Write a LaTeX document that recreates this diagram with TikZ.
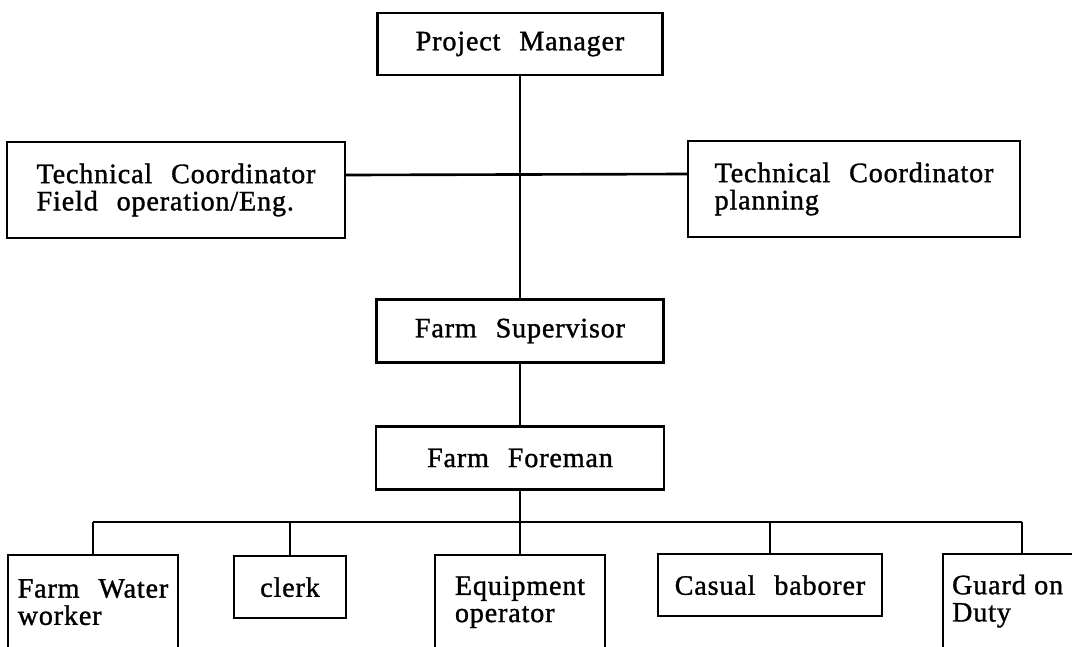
\documentclass[tikz,border=0pt]{standalone}
\usepackage{fontspec}
\setmainfont{Liberation Serif}[LetterSpace=3, WordSpace=2.4, FakeBold=1.2]
\usepackage{tikz}
\usetikzlibrary{positioning, calc}

\begin{document}
\begin{tikzpicture}[x=0.02cm, y=-0.02cm,
    post/.style={draw, line width=1.3pt, rectangle, inner sep=0pt,
      font=\fontsize{16}{15.5}\selectfont},
    link/.style={line width=1.5pt}]
  % frame of the scan
  \useasboundingbox (0,0) rectangle (1072,646);
  \clip (0,0) rectangle (1072,646);
  \fill[white] (0,0) rectangle (1072,646);

  % top of the chart
  \node[post, minimum width=5.7cm, minimum height=1.24cm] (pm) at (520,44) {Project Manager};
  \node[post, minimum width=6.76cm, minimum height=1.92cm, align=left] (tcfield) at (176,190)
        {Technical Coordinator\\ Field operation/Eng.};
  \node[post, minimum width=6.64cm, minimum height=1.92cm, align=left] (tcplan) at (854,189)
        {Technical Coordinator\\ planning};
  \node[post, minimum width=5.74cm, minimum height=1.26cm] (sup) at (520,331) {Farm Supervisor};
  \node[post, minimum width=5.76cm, minimum height=1.26cm] (fore) at (520,458) {Farm Foreman};

  % staff row, boxes run off the page
  \node[post, anchor=north, minimum width=3.4cm, minimum height=1.88cm, align=left] (water) at (93,554) {Farm Water\\ worker};
  \node[post, anchor=north, minimum width=2.24cm, minimum height=1.24cm] (clerk) at (290,555) {clerk};
  \node[post, anchor=north, minimum width=3.4cm, minimum height=1.88cm, align=left] (equip) at (520,554) {Equipment\\ operator};
  \node[post, anchor=north, minimum width=4.48cm, minimum height=1.24cm] (casual) at (770,553) {Casual baborer};
  \node[post, anchor=north west, inner xsep=0.18cm, text width=2.6cm, minimum height=1.88cm, align=left] (guard) at (942,553) {Guard\hspace{0.3em}on\\ Duty};
  \coordinate (guardtop) at ([xshift=1.6cm]guard.north west);

  % lines
  \draw[link] (pm.south) -- (sup.north);
  \draw[link] ([yshift=0.3cm]tcfield.east) -- ([yshift=0.3cm]tcplan.west);
  \draw[link] (sup.south) -- (fore.north);
  \coordinate (bar) at (520,522);
  \draw[link] (fore.south) -- (bar);
  \draw[link] (water.north |- bar) -- (guardtop |- bar);
  \foreach \n in {water, clerk, equip, casual, guardtop}
    \draw[link] (\n.north |- bar) -- (\n.north);
\end{tikzpicture}
\end{document}
